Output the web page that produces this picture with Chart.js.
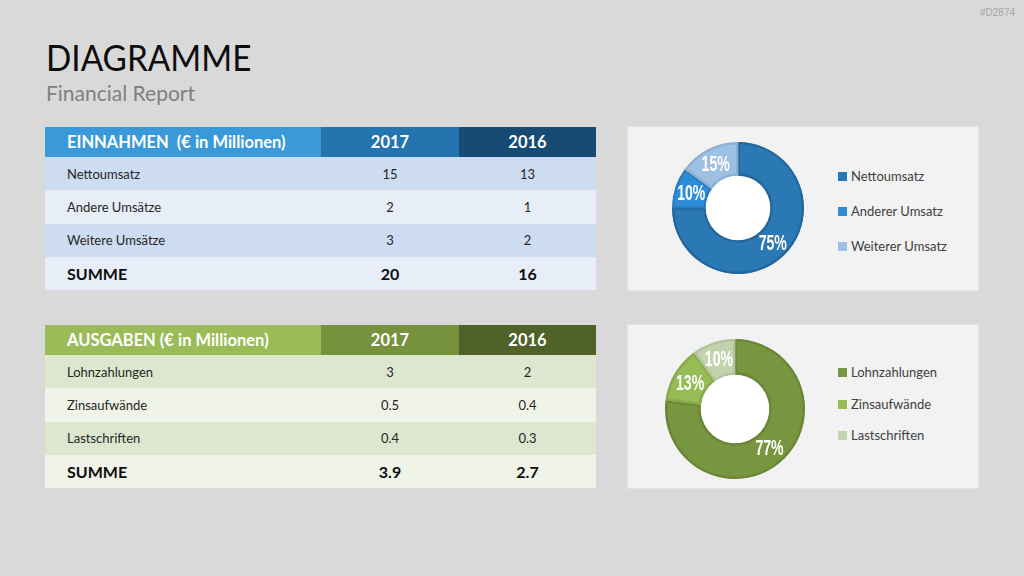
<!DOCTYPE html>
<html><head><meta charset="utf-8">
<script src="https://cdn.jsdelivr.net/npm/chart.js@4.4.1/dist/chart.umd.min.js"></script>
<style>
html,body{margin:0;padding:0;}
body{width:1024px;height:576px;background:#d9d9d9;position:relative;overflow:hidden;font-family:Lato,"Open Sans",sans-serif;}
#wm{position:absolute;right:9px;top:7px;font-size:10px;color:#a6a6a6;font-family:"Liberation Sans",sans-serif;}
#title{position:absolute;left:46px;top:34px;font-size:37px;color:#0d0d0d;transform:scaleX(0.9);transform-origin:0 0;}
#sub{position:absolute;left:46px;top:80px;font-size:21px;color:#7f7f7f;}
table{position:absolute;left:45px;width:551px;border-collapse:collapse;table-layout:fixed;}
td,th{padding:0;margin:0;}
th{height:30px;color:#fff;font-weight:bold;font-size:16.5px;white-space:pre;}
th.lab{text-align:left;padding-left:22px;}
td{height:33.25px;font-size:13px;color:#262626;text-align:center;}
td.lab{text-align:left;padding-left:22px;}
tr.sum td{font-weight:bold;font-size:16px;color:#0d0d0d;}
.panel{position:absolute;left:628px;width:350px;height:163px;background:#f2f2f2;box-shadow:0 0 0 1px #e3e3e3;}
.cv{position:absolute;}
.leg{position:absolute;left:838px;font-size:13px;color:#404040;}
.leg div{position:absolute;white-space:nowrap;line-height:14px;}
.leg span{display:inline-block;width:9px;height:9px;margin-right:4px;vertical-align:0px;}
</style></head>
<body>
<div id="wm">#D2874</div>
<div id="title">DIAGRAMME</div>
<div id="sub">Financial Report</div>
<table id="t1" style="top:127px"></table>
<table id="t2" style="top:325px"></table>
<div class="panel" style="top:127px"></div>
<div class="panel" style="top:325px"></div>
<div class="cv" style="left:672px;top:142px;width:132px;height:132px"><canvas id="c1"></canvas></div>
<div class="cv" style="left:665px;top:339px;width:140px;height:140px"><canvas id="c2"></canvas></div>
<div class="leg" id="l1" style="top:0"></div>
<div class="leg" id="l2" style="top:0"></div>
<script>
// ---- data ----
const years = ["2017", "2016"];
const incomeTitle = "EINNAHMEN  (€ in Millionen)";
const incomeCats = ["Nettoumsatz", "Andere Umsätze", "Weitere Umsätze"];
const income2017 = [15, 2, 3];
const income2016 = [13, 1, 2];
const incomeSum = ["20", "16"];
const expenseTitle = "AUSGABEN (€ in Millionen)";
const expenseCats = ["Lohnzahlungen", "Zinsaufwände", "Lastschriften"];
const expense2017 = [3, 0.5, 0.4];
const expense2016 = [2, 0.4, 0.3];
const expenseSum = ["3.9", "2.7"];
const sumLabel = "SUMME";
const incomeLegend = ["Nettoumsatz", "Anderer Umsatz", "Weiterer Umsatz"];
const incomeShare = [75, 10, 15];
const expenseLegend = ["Lohnzahlungen", "Zinsaufwände", "Lastschriften"];
const expenseShare = [77, 13, 10];

// ---- styles ----
const blueHead = ["#3a9ad9", "#2474b0", "#174b73"];
const blueRows = ["#cedcf1", "#e7eef8"];
const greenHead = ["#9bbb59", "#76923c", "#4f6228"];
const greenRows = ["#dde7cf", "#eff3e8"];
const blueFill = ["#2a78b4", "#2f8cd6", "#9dc0e3"];
const blueBorder = ["#23679c", "#2a7cc0", "#8cb0d4"];
const greenFill = ["#77963f", "#97bb55", "#c3d3ad"];
const greenBorder = ["#6a8636", "#88aa4b", "#b2c49c"];

function buildTable(id, title, cats, a, b, sums, head, rows) {
  const t = document.getElementById(id);
  let h = '<colgroup><col style="width:276px"><col style="width:138px"><col style="width:137px"></colgroup>';
  h += '<tr><th class="lab" style="background:' + head[0] + '">' + title + '</th>' +
       '<th style="background:' + head[1] + '">' + years[0] + '</th>' +
       '<th style="background:' + head[2] + '">' + years[1] + '</th></tr>';
  cats.forEach((c, i) => {
    const bg = rows[i % 2];
    h += '<tr style="background:' + bg + '"><td class="lab">' + c + '</td><td>' + a[i] + '</td><td>' + b[i] + '</td></tr>';
  });
  h += '<tr class="sum" style="background:' + rows[cats.length % 2] + '"><td class="lab">' + sumLabel + '</td><td>' + sums[0] + '</td><td>' + sums[1] + '</td></tr>';
  t.innerHTML = h;
}
buildTable("t1", incomeTitle, incomeCats, income2017, income2016, incomeSum, blueHead, blueRows);
buildTable("t2", expenseTitle, expenseCats, expense2017, expense2016, expenseSum, greenHead, greenRows);

function buildLegend(id, labels, colors, top0, step) {
  const el = document.getElementById(id);
  el.innerHTML = labels.map((l, i) =>
    '<div style="top:' + (top0 + i * step) + 'px"><span style="background:' + colors[i] + '"></span>' + l + '</div>').join('');
}
buildLegend("l1", incomeLegend, blueFill, 169, 35);
buildLegend("l2", expenseLegend, greenFill, 365, 31.5);

const holePlugin = {
  id: 'whiteHole',
  beforeDatasetsDraw(chart) {
    const arc = chart.getDatasetMeta(0).data[0];
    if (!arc) return;
    const ctx = chart.ctx;
    ctx.save();
    ctx.fillStyle = '#ffffff';
    ctx.beginPath();
    ctx.arc(arc.x, arc.y, arc.innerRadius + 1, 0, Math.PI * 2);
    ctx.fill();
    ctx.restore();
  }
};

const labelPlugin = {
  id: 'arcLabels',
  afterDatasetsDraw(chart) {
    const ctx = chart.ctx;
    const meta = chart.getDatasetMeta(0);
    meta.data.forEach((arc, i) => {
      const p = arc.tooltipPosition();
      ctx.save();
      ctx.translate(p.x, p.y);
      ctx.scale(0.64, 1);
      ctx.fillStyle = '#ffffff';
      ctx.font = 'bold 22px "Liberation Sans",sans-serif';
      ctx.textAlign = 'center';
      ctx.textBaseline = 'middle';
      ctx.fillText(chart.data.datasets[0].data[i] + '%', 0, 1);
      ctx.restore();
    });
  }
};

function donut(id, labels, data, fill, border) {
  new Chart(document.getElementById(id), {
    type: 'doughnut',
    data: { labels: labels, datasets: [{ data: data, backgroundColor: fill, borderColor: border, borderWidth: 2, borderAlign: 'inner' }] },
    options: {
      responsive: true, maintainAspectRatio: false, animation: false,
      cutout: '49%',
      layout: { padding: 0 },
      plugins: { legend: { display: false }, tooltip: { enabled: false } }
    },
    plugins: [holePlugin, labelPlugin]
  });
}
donut("c1", incomeLegend, incomeShare, blueFill, blueBorder);
donut("c2", expenseLegend, expenseShare, greenFill, greenBorder);
</script>
</body></html>
